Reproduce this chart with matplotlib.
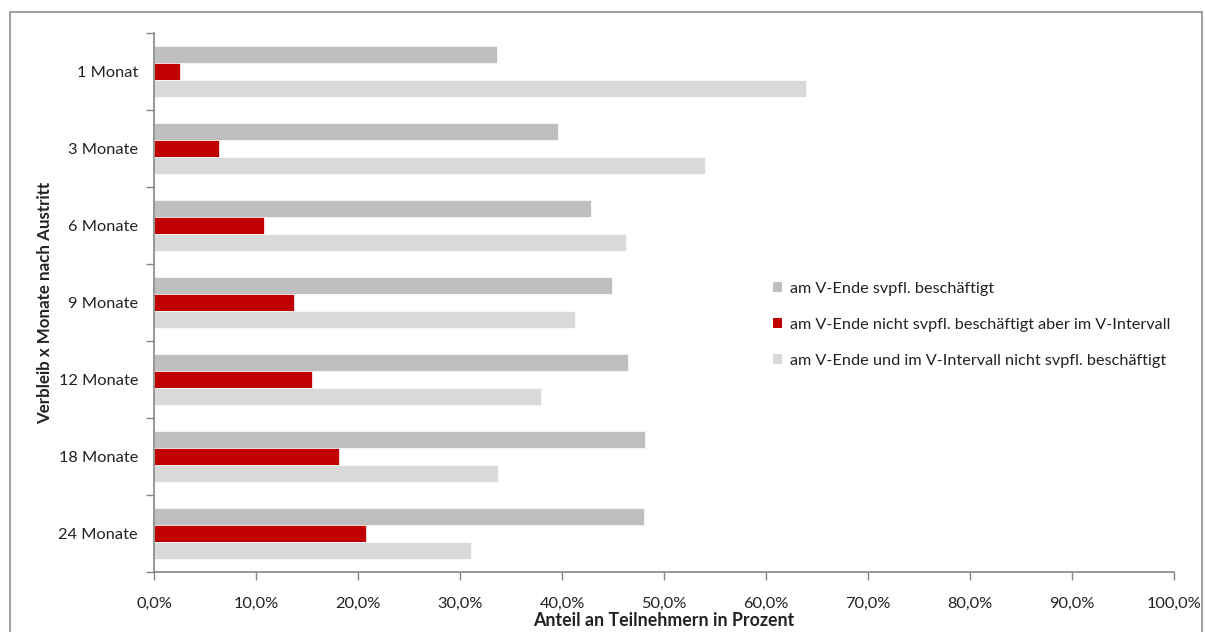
import matplotlib
matplotlib.use("Agg")
import matplotlib.pyplot as plt
from matplotlib.patches import Rectangle, Patch
from matplotlib.ticker import FuncFormatter, FixedLocator
import numpy as np

plt.rcParams['font.family'] = ['Lato', 'DejaVu Sans']

categories = ["1 Monat", "3 Monate", "6 Monate", "9 Monate", "12 Monate", "18 Monate", "24 Monate"]
series_names = [
    "am V-Ende svpfl. beschäftigt",
    "am V-Ende nicht svpfl. beschäftigt aber im V-Intervall",
    "am V-Ende und im V-Intervall nicht svpfl. beschäftigt",
]
employed = [33.6, 39.6, 42.8, 44.9, 46.5, 48.1, 48.0]
interval = [2.5, 6.4, 10.8, 13.7, 15.5, 18.1, 20.8]
not_employed = [63.9, 54.0, 46.3, 41.3, 37.9, 33.7, 31.1]
x_ticks = [0, 10, 20, 30, 40, 50, 60, 70, 80, 90, 100]

colors = ["#BFBFBF", "#C00000", "#D9D9D9"]

W, H = 1205, 632
fig = plt.figure(figsize=(W / 100, H / 100), dpi=100)
ax = fig.add_axes([154 / W, 1 - 572 / H, (1174 - 154) / W, (572 - 33) / H])

# outer chart border
fig.patches.append(Rectangle((10 / W, -0.1), (1202 - 10) / W, 1.1 - 12 / H,
                             transform=fig.transFigure, fill=False,
                             edgecolor="#8C8C8C", linewidth=1.2))

y = np.arange(len(categories))
h = 0.22
for i, (vals, col) in enumerate(zip([employed, interval, not_employed], colors)):
    ax.barh(y + (i - 1) * h, vals, height=h, color=col, edgecolor="white",
            linewidth=0.5, label=series_names[i])

fs = 11.8
ax.set_xlim(0, 100)
ax.set_ylim(len(categories) - 0.5, -0.5)
ax.set_yticks(y)
ax.set_yticklabels(categories, fontsize=fs, color="#222222")
ax.yaxis.set_minor_locator(FixedLocator(np.arange(-0.5, len(categories), 1.0)))
ax.tick_params(axis="y", which="major", length=0, pad=11.5)
ax.tick_params(axis="y", which="minor", length=6, color="#868686", width=1)
ax.set_xticks(x_ticks)
ax.xaxis.set_major_formatter(FuncFormatter(lambda v, p: f"{v:.1f}".replace(".", ",") + "%"))
ax.tick_params(axis="x", length=6, color="#868686", width=1, labelsize=fs,
               labelcolor="#222222", pad=12)

for s in ["top", "right"]:
    ax.spines[s].set_visible(False)
for s in ["left", "bottom"]:
    ax.spines[s].set_color("#868686")
    ax.spines[s].set_linewidth(1.2)

ax.set_xlabel("Anteil an Teilnehmern in Prozent", fontsize=12.8, fontweight="bold",
              color="#222222", labelpad=1)
ax.set_ylabel("Verbleib x Monate nach Austritt", fontsize=12.2, fontweight="bold",
              color="#222222", labelpad=4)

handles = [Patch(facecolor=c, edgecolor="none") for c in colors]
fig.legend(handles, series_names, loc="upper left",
           bbox_to_anchor=(758 / W, 1 - 267 / H), frameon=False,
           fontsize=11.7, handlelength=0.55, handleheight=0.55, handletextpad=0.55,
           labelspacing=1.35, labelcolor="#222222")

fig.savefig("out.png", dpi=100)
